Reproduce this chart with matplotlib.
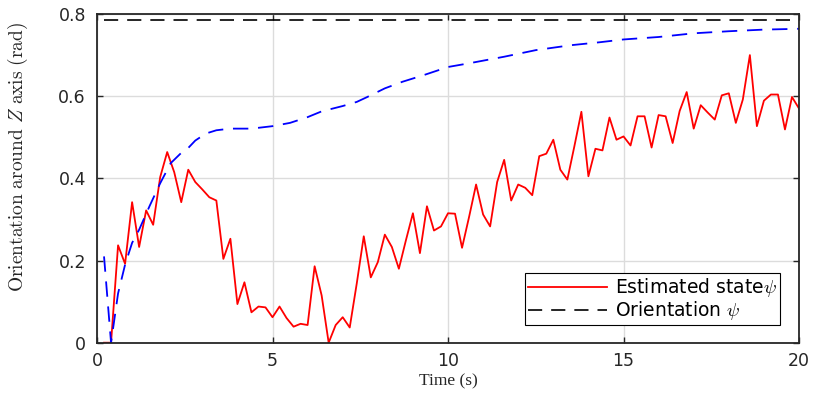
import matplotlib as mpl

mpl.use("Agg")
import matplotlib.pyplot as plt
import numpy as np

# sampled every 0.2 s, from 0.2 s to 20 s
t_est = np.linspace(0.2, 20.0, 100)
psi_est = [
    0, 0, 0.237, 0.192, 0.342, 0.233, 0.322, 0.287, 0.403, 0.464,
    0.415, 0.342, 0.421, 0.391, 0.373, 0.354, 0.346, 0.204, 0.253, 0.094,
    0.147, 0.074, 0.088, 0.086, 0.062, 0.088, 0.060, 0.039, 0.046, 0.043,
    0.186, 0.115, 0.0, 0.043, 0.062, 0.037, 0.144, 0.259, 0.159, 0.196,
    0.263, 0.233, 0.180, 0.249, 0.315, 0.218, 0.332, 0.273, 0.283, 0.315,
    0.314, 0.231, 0.306, 0.385, 0.312, 0.283, 0.391, 0.445, 0.346, 0.385,
    0.377, 0.359, 0.454, 0.460, 0.494, 0.421, 0.397, 0.478, 0.562, 0.405,
    0.472, 0.468, 0.548, 0.494, 0.502, 0.480, 0.551, 0.551, 0.475, 0.554,
    0.551, 0.486, 0.564, 0.610, 0.521, 0.578, 0.560, 0.543, 0.602, 0.607,
    0.535, 0.592, 0.700, 0.527, 0.589, 0.604, 0.604, 0.519, 0.598, 0.570,
]

t_filt = [0.2, 0.4, 0.6, 0.8, 1.0, 1.2, 1.5, 1.8, 2.1, 2.4, 2.6, 2.8, 3.1, 3.4,
          3.8, 4.4, 5.0, 5.5, 6.0, 6.4, 7.0, 7.4, 7.7, 8.2, 8.7, 9.3, 10.0,
          10.6, 11.6, 12.5, 13.5, 14.3, 15.0, 16.0, 17.0, 18.0, 19.0, 20.0]
psi_filt = [0.21, 0.0, 0.12, 0.19, 0.243, 0.275, 0.333, 0.388, 0.437, 0.462,
            0.474, 0.492, 0.509, 0.517, 0.521, 0.521, 0.527, 0.535, 0.549,
            0.563, 0.576, 0.586, 0.598, 0.619, 0.635, 0.651, 0.671, 0.680,
            0.696, 0.712, 0.724, 0.731, 0.738, 0.744, 0.753, 0.758, 0.762,
            0.764]

t_ref = [0.2, 20.0]
psi_ref = [np.pi / 4, np.pi / 4]

plt.rcParams["mathtext.fontset"] = "cm"
plt.rcParams["font.family"] = "DejaVu Sans"

INK = "#262626"
SERIF = "Liberation Serif"
DASH = (8.5, 5.4)

fig = plt.figure(figsize=(8.2, 3.94), dpi=100, facecolor="white")
ax = fig.add_axes([0.1183, 0.1302, 0.8561, 0.8343])

ax.plot(t_est, psi_est, color="#ff0000", lw=1.3, label=r"Estimated state$\psi$")
ax.plot(t_ref, psi_ref, color="black", lw=1.2, dashes=DASH, label=r"Orientation $\psi$")
ax.plot(t_filt, psi_filt, color="#0000ff", lw=1.3, dashes=DASH)

ax.set_xlim(0, 20)
ax.set_ylim(0, 0.8)
ax.set_xticks([0, 5, 10, 15, 20])
ax.set_yticks([0, 0.2, 0.4, 0.6, 0.8])
ax.set_yticklabels(["0", "0.2", "0.4", "0.6", "0.8"])
ax.grid(True, color="#dcdcdc", lw=1.0)
ax.set_axisbelow(True)

for sp in ax.spines.values():
    sp.set_color(INK)
    sp.set_linewidth(1.3)
ax.tick_params(direction="in", length=4, width=1.0, color=INK, labelsize=12.5,
               labelcolor=INK, top=True, right=True)
ax.tick_params(axis="x", pad=7)
ax.tick_params(axis="y", pad=8)

ax.set_xlabel("Time (s)", fontsize=12.5, color=INK, family=SERIF)
ax.xaxis.set_label_coords(0.5, -0.093)
ax.set_ylabel(r"$\mathrm{Orientation\ around\ }Z\mathrm{\ axis\ (rad)}$",
              fontsize=14, color=INK)
ax.yaxis.set_label_coords(-0.096, 0.566)

leg = ax.legend(loc="lower right", bbox_to_anchor=(0.973, 0.054), fontsize=13.5,
                frameon=True, fancybox=False, framealpha=1, edgecolor="black",
                borderpad=0.15, labelspacing=0.0, handlelength=4.2,
                handletextpad=0.45, borderaxespad=0)
leg.get_frame().set_linewidth(0.8)

fig.savefig("out.png", dpi=100, facecolor="white")
